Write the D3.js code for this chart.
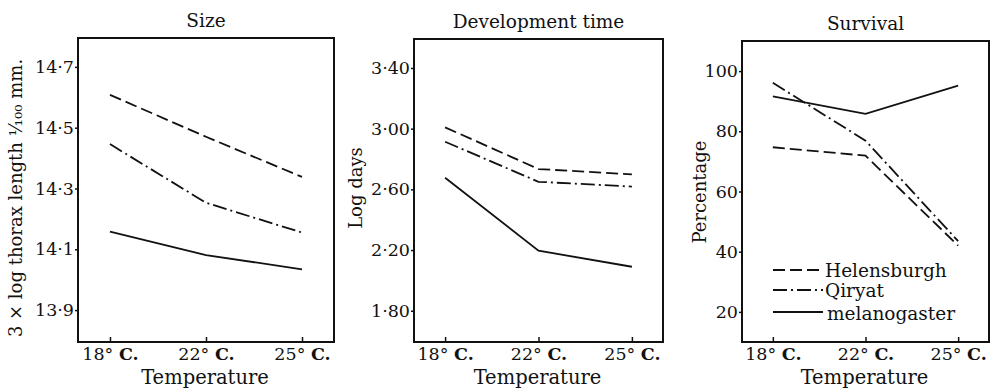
<!DOCTYPE html>
<html>
<head>
<meta charset="utf-8">
<script src="https://cdn.jsdelivr.net/npm/d3@7"></script>
<style>
  body { margin: 0; background: #fff; }
  text { font-family: "DejaVu Serif", serif; fill: #111; }
</style>
</head>
<body>
<script>
// temperatures (categorical, evenly spaced in the figure)
const temps = ["18°", "22°", "25°"];

// Size: 3 x log thorax length (1/100 mm)
const sizeHelensburgh = [14.608, 14.47, 14.338];
const sizeQiryat = [14.446, 14.253, 14.155];
const sizeMelanogaster = [14.158, 14.081, 14.034];
const sizeTicks = [13.9, 14.1, 14.3, 14.5, 14.7];

// Development time: log days
const devHelensburgh = [3.009, 2.734, 2.699];
const devQiryat = [2.914, 2.650, 2.618];
const devMelanogaster = [2.677, 2.196, 2.090];
const devTicks = [1.8, 2.2, 2.6, 3.0, 3.4];

// Survival: percentage
const survHelensburgh = [74.7, 71.9, 42.0];
const survQiryat = [96.1, 76.9, 43.5];
const survMelanogaster = [91.6, 85.8, 95.2];
const survTicks = [20, 40, 60, 80, 100];

const seriesNames = ["Helensburgh", "Qiryat", "melanogaster"];
const dashes = ["12,5", "14,4,2,4", null];

const W = 992, H = 390;
const svg = d3.select("body").append("svg")
    .attr("width", W)
    .attr("height", H);

const panels = [
  {title: "Size", left: 78, right: 334, top: 38, bottom: 342, domain: [13.795, 14.795],
   ticks: sizeTicks, fmt: d => d3.format(".1f")(d).replace(".", "·"),
   series: [sizeHelensburgh, sizeQiryat, sizeMelanogaster],
   ylabel: "3 × log thorax length ¹⁄₁₀₀ mm.", labelX: -56, labelY: 198},
  {title: "Development time", left: 414, right: 663, top: 39, bottom: 342, domain: [1.594, 3.591],
   ticks: devTicks, fmt: d => d3.format(".2f")(d).replace(".", "·"),
   series: [devHelensburgh, devQiryat, devMelanogaster],
   ylabel: "Log days", labelX: -52, labelY: 188},
  {title: "Survival", left: 742, right: 989, top: 41, bottom: 342, domain: [10, 110],
   ticks: survTicks, fmt: d => d,
   series: [survHelensburgh, survQiryat, survMelanogaster],
   ylabel: "Percentage", labelX: -36, labelY: 192, legend: true}
];

panels.forEach(p => {
  const w = p.right - p.left, h = p.bottom - p.top;
  const g = svg.append("g").attr("transform", `translate(${p.left},${p.top})`);

  const x = d3.scalePoint().domain(temps).range([0, w]).padding(0.333);
  const y = d3.scaleLinear().domain(p.domain).range([h, 0]);

  // frame
  g.append("rect")
      .attr("width", w).attr("height", h)
      .attr("fill", "none").attr("stroke", "#111").attr("stroke-width", 2);

  // y axis
  const gy = g.append("g")
      .call(d3.axisLeft(y).tickValues(p.ticks).tickFormat(p.fmt).tickSize(3).tickPadding(1));
  gy.select(".domain").remove();
  gy.selectAll("line").attr("stroke", "#111").attr("stroke-width", 1.5);
  gy.selectAll("text").style("font-size", "17.5px").attr("fill", "#111");

  // x axis, ticks pointing inward
  const gx = g.append("g")
      .attr("transform", `translate(0,${h})`)
      .call(d3.axisBottom(x).tickSizeInner(-5).tickSizeOuter(0).tickPadding(6));
  gx.select(".domain").remove();
  gx.selectAll("line").attr("stroke", "#111").attr("stroke-width", 1.5);
  gx.selectAll("text").style("font-size", "17.5px").attr("fill", "#111")
    .each(function(d) {
      const t = d3.select(this).text(null);
      t.append("tspan").text(d + " ");
      t.append("tspan").attr("font-weight", "bold").text("C.");
    });

  // title
  g.append("text")
      .attr("x", w / 2).attr("y", -11)
      .attr("text-anchor", "middle")
      .style("font-size", "18.5px")
      .text(p.title);

  // x label
  g.append("text")
      .attr("x", w / 2 - 1).attr("y", 384 - p.top)
      .attr("text-anchor", "middle")
      .style("font-size", "19.5px")
      .text("Temperature");

  // y label
  g.append("text")
      .attr("transform", `translate(${p.labelX},${p.labelY - p.top}) rotate(-90)`)
      .attr("text-anchor", "middle")
      .style("font-size", "18px")
      .text(p.ylabel);

  // lines
  const line = d3.line().x((d, i) => x(temps[i])).y(d => y(d));
  p.series.forEach((s, i) => {
    g.append("path")
        .datum(s)
        .attr("d", line)
        .attr("fill", "none")
        .attr("stroke", "#111")
        .attr("stroke-width", 1.8)
        .attr("stroke-dasharray", dashes[i]);
  });

  // legend
  if (p.legend) {
    const rows = [{ly: 229, ty: 236}, {ly: 249, ty: 256}, {ly: 271, ty: 279}];
    seriesNames.forEach((n, i) => {
      g.append("line")
          .attr("x1", 31).attr("x2", 81)
          .attr("y1", rows[i].ly).attr("y2", rows[i].ly)
          .attr("stroke", "#111").attr("stroke-width", 1.8)
          .attr("stroke-dasharray", dashes[i]);
      g.append("text")
          .attr("x", i === 2 ? 85 : 83).attr("y", rows[i].ty)
          .style("font-size", "18.5px")
          .text(n);
    });
  }
});
</script>
</body>
</html>
